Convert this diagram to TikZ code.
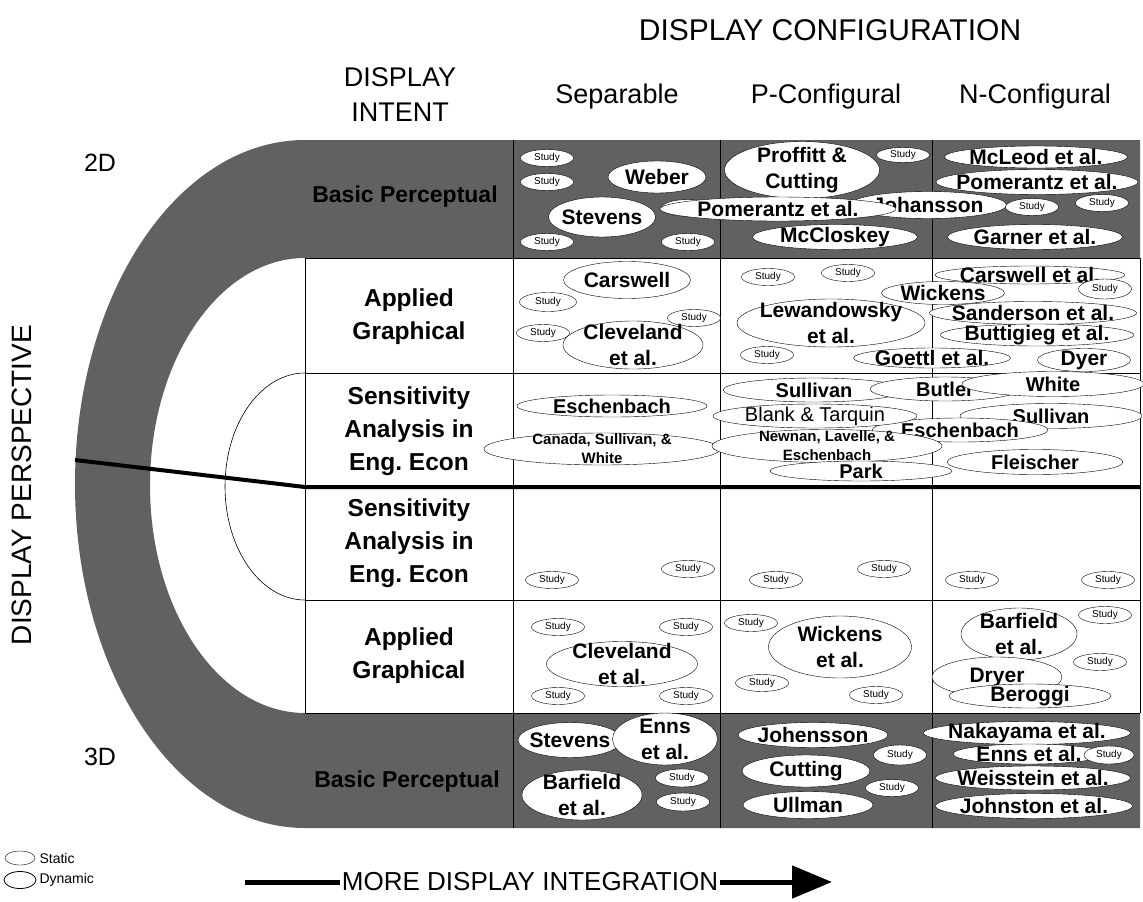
\documentclass[tikz,border=0pt]{standalone}
\usepackage{fontspec}
\setmainfont{Liberation Sans}
\usetikzlibrary{shapes.geometric}
\usetikzlibrary{arrows.meta}
\frenchspacing

\begin{document}
\begin{tikzpicture}[x=1pt, y=-1pt,
    band/.style={fill=black!62},
    grid/.style={draw=black, line width=0.6pt},
    head/.style={font=\fontsize{27}{35}\selectfont, align=center},
    rowlab/.style={font=\bfseries\fontsize{24.5}{33}\selectfont, align=center},
    study/.style={ellipse, draw, fill=white, inner sep=0pt, minimum width=53, minimum height=17, font=\fontsize{10}{10}\selectfont},
    pub/.style={ellipse, draw, fill=white, inner sep=0pt},
    who/.style={font=\bfseries\fontsize{21}{26}\selectfont, align=center, inner sep=0pt},
    sens/.style={font=\bfseries\fontsize{20}{24}\selectfont, align=center, inner sep=0pt},
    tiny/.style={font=\bfseries\fontsize{15}{19}\selectfont, align=center, inner sep=0pt}]
  \useasboundingbox (0,0) rectangle (1143,902);
  \fill[band] (1140,140) -- (305,140) arc[start angle=90, end angle=270, x radius=230pt, y radius=344pt]
     -- (1140,828) -- (1140,713) -- (305,713) arc[start angle=270, end angle=90, x radius=155pt, y radius=227.5pt]
     -- (1140,258) -- cycle;
  \draw[grid] (305,373) arc[start angle=90, end angle=270, x radius=80pt, y radius=113.5pt];
  \draw[grid] (305,258) -- (1140,258) (305,373) -- (1140,373) (305,600) -- (1140,600) (305,713) -- (1140,713);
  \draw[grid] (305,258) -- (305,713) (1140,258) -- (1140,713);
  \draw[grid] (513,140) -- (513,828) (720,140) -- (720,828) (932,140) -- (932,828);
  \draw[line width=4pt] (75,460) -- (305,487) -- (1140,487);

  \node[head, font=\fontsize{30}{30}\selectfont] (config) at (830,30) {DISPLAY CONFIGURATION};
  \node[head] (intent) at (400,95) {DISPLAY\\INTENT};
  \node[head] (sep) at (617,97) {Separable};
  \node[head] (pconf) at (826,97) {P-Configural};
  \node[head] (nconf) at (1035,97) {N-Configural};
  \node[rotate=90, font=\fontsize{28}{28}\selectfont] (persp) at (22,485) {DISPLAY PERSPECTIVE};
  \node[font=\fontsize{25}{25}\selectfont] (twod) at (100,163) {2D};
  \node[font=\fontsize{25}{25}\selectfont] (threed) at (100,757) {3D};

  \node[rowlab, font=\bfseries\fontsize{23}{23}\selectfont] (bp2) at (405,197) {Basic Perceptual};
  \node[rowlab] (ag2) at (409,317) {Applied\\Graphical};
  \node[rowlab] (sa2) at (409,431) {Sensitivity\\Analysis in\\Eng. Econ};
  \node[rowlab] (sa3) at (409,543) {Sensitivity\\Analysis in\\Eng. Econ};
  \node[rowlab] (ag3) at (409,656) {Applied\\Graphical};
  \node[rowlab, font=\bfseries\fontsize{23}{23}\selectfont] (bp3) at (407,782) {Basic Perceptual};

  \node[study] (st1) at (547,158) {Study};
  \node[study] (st2) at (547,182) {Study};
  \node[study] (st3) at (547,242) {Study};
  \node[pub, minimum width=98, minimum height=32, label={[who]center:Weber}] (weber) at (657,177) {};
  \node[study] (st4) at (688,208) {Study};
  \node[pub, minimum width=107, minimum height=40, label={[who]center:Stevens}] (stevens1) at (602,217) {};
  \node[study] (st5) at (688,242) {Study};
  \node[pub, minimum width=155, minimum height=57, label={[who]center:Proffitt \&\\Cutting}] (proffitt) at (802,170) {};
  \node[study, minimum height=15] (st6) at (903,155) {Study};
  \node[pub, minimum width=157, minimum height=27, label={[who]center:Johansson}] (johansson) at (928,205) {};
  \node[pub, minimum width=236, minimum height=24, label={[who]center:Pomerantz et al.}] (pomerantz1) at (778,209) {};
  \node[pub, minimum width=165, minimum height=25, label={[who]center:McCloskey}] (mccloskey) at (835,237) {};
  \node[pub, minimum width=183, minimum height=22, label={[who]center:McLeod et al.}] (mcleod) at (1036,157) {};
  \node[pub, minimum width=202, minimum height=25, label={[who]center:Pomerantz et al.}] (pomerantz2) at (1037,182) {};
  \node[study] (st7) at (1032,207) {Study};
  \node[study] (st8) at (1102,203) {Study};
  \node[pub, minimum width=175, minimum height=25, label={[who]center:Garner et al.}] (garner) at (1035,237) {};

  \node[pub, minimum width=127, minimum height=37, label={[who]center:Carswell}] (carswell1) at (627,280) {};
  \node[study, minimum width=57, minimum height=19] (st9) at (548,302) {Study};
  \node[study] (st10) at (694,318) {Study};
  \node[study] (st11) at (543,333) {Study};
  \node[pub, minimum width=140, minimum height=48, label={[who]center:Cleveland\\et al.}] (cleveland1) at (633,345) {};
  \node[study] (st12) at (768,277) {Study};
  \node[study] (st13) at (848,273) {Study};
  \node[study] (st14) at (767,355) {Study};
  \node[pub, minimum width=188, minimum height=48, label={[who]center:Lewandowsky\\et al.}] (lewandowsky) at (831,323) {};
  \node[pub, minimum width=190, minimum height=18, label={[who]center:Carswell et al.}] (carswell2) at (1030,275) {};
  \node[study, minimum height=20] (st15) at (1105,289) {Study};
  \node[pub, minimum width=123, minimum height=23, label={[who]center:Wickens}] (wickens1) at (943,293) {};
  \node[pub, minimum width=207, minimum height=23, label={[who]center:Sanderson et al.}] (sanderson) at (1033,313) {};
  \node[pub, minimum width=193, minimum height=22, label={[who]center:Buttigieg et al.}] (buttigieg) at (1037,335) {};
  \node[pub, minimum width=157, minimum height=20, label={[who]center:Goettl et al.}] (goettl) at (932,358) {};
  \node[pub, minimum width=93, minimum height=23, label={[who]center:Dyer}] (dyer) at (1084,360) {};

  \node[pub, minimum width=190, minimum height=22, label={[sens]center:Eschenbach}] (esch1) at (612,406) {};
  \node[pub, minimum width=182, minimum height=24, label={[sens]center:Sullivan}] (sullivan1) at (814,390) {};
  \node[pub, minimum width=150, minimum height=24, label={[sens]center:Butler}] (butler) at (945,389) {};
  \node[pub, minimum width=182, minimum height=25, label={[sens]center:White}] (white) at (1053,384) {};
  \node[pub, minimum width=182, minimum height=25, label={[sens]center:Sullivan}] (sullivan2) at (1051,416) {};
  \node[pub, minimum width=176, minimum height=24, label={[sens]center:Eschenbach}] (esch2) at (960,430) {};
  \node[pub, minimum width=204, minimum height=24, label={[font=\fontsize{20}{24}\selectfont, inner sep=0pt]center:Blank \& Tarquin}] (blank) at (815,416) {};
  \node[pub, minimum width=236, minimum height=32, label={[tiny]center:Canada, Sullivan, \&\\White}] (canada) at (602,449) {};
  \node[pub, minimum width=230, minimum height=33, label={[tiny]center:Newnan, Lavelle, \&\\Eschenbach}] (newnan) at (827,446) {};
  \node[pub, minimum width=182, minimum height=20, label={[sens]center:Park}] (park) at (861,471) {};
  \node[pub, minimum width=176, minimum height=25, label={[sens]center:Fleischer}] (fleischer) at (1035,462) {};

  \node[study] (st16) at (552,580) {Study};
  \node[study] (st17) at (688,569) {Study};
  \node[study] (st18) at (776,580) {Study};
  \node[study] (st19) at (884,569) {Study};
  \node[study] (st20) at (972,580) {Study};
  \node[study] (st21) at (1108,580) {Study};

  \node[study] (st22) at (558,627) {Study};
  \node[study] (st23) at (686,627) {Study};
  \node[pub, minimum width=151, minimum height=45, label={[who]center:Cleveland\\et al.}] (cleveland2) at (622,664) {};
  \node[study] (st24) at (558,696) {Study};
  \node[study] (st25) at (686,696) {Study};
  \node[study] (st26) at (751,623) {Study};
  \node[pub, minimum width=143, minimum height=62, label={[who]center:Wickens\\et al.}] (wickens2) at (840,647) {};
  \node[study] (st27) at (762,683) {Study};
  \node[study] (st28) at (876,695) {Study};
  \node[pub, minimum width=116, minimum height=52, label={[who]center:Barfield\\et al.}] (barfield1) at (1019,634) {};
  \node[study] (st29) at (1105,615) {Study};
  \node[study] (st30) at (1100,662) {Study};
  \node[pub, minimum width=130, minimum height=40, label={[who]center:Dryer}] (dryer) at (997,677) {};
  \node[pub, minimum width=162, minimum height=24, label={[who]center:Beroggi}] (beroggi) at (1030,696) {};

  \node[pub, minimum width=104, minimum height=35, label={[who]center:Stevens}] (stevens2) at (570,740) {};
  \node[pub, minimum width=105, minimum height=52, label={[who]center:Enns\\et al.}] (enns1) at (665,739) {};
  \node[pub, minimum width=120, minimum height=50, label={[who]center:Barfield\\et al.}] (barfield2) at (582,795) {};
  \node[study, minimum height=18] (st31) at (682,778) {Study};
  \node[study, minimum height=18] (st32) at (683,802) {Study};
  \node[pub, minimum width=150, minimum height=25, label={[who]center:Johensson}] (johensson) at (813,735) {};
  \node[study, minimum height=20] (st33) at (900,755) {Study};
  \node[pub, minimum width=128, minimum height=32, label={[who]center:Cutting}] (cutting) at (806,771) {};
  \node[study] (st34) at (892,788) {Study};
  \node[pub, minimum width=130, minimum height=27, label={[who]center:Ullman}] (ullman) at (808,805) {};
  \node[pub, minimum width=207, minimum height=23, label={[who]center:Nakayama et al.}] (nakayama) at (1027,733) {};
  \node[pub, minimum width=152, minimum height=20, label={[who]center:Enns et al.}] (enns2) at (1029,754) {};
  \node[study, minimum width=50, minimum height=18] (st35) at (1109,755) {Study};
  \node[pub, minimum width=195, minimum height=24, label={[who]center:Weisstein et al.}] (weisstein) at (1033,778) {};
  \node[pub, minimum width=197, minimum height=25, label={[who]center:Johnston et al.}] (johnston) at (1034,806) {};

  \node[pub, minimum width=30, minimum height=14] (legs) at (20,858) {};
  \node[anchor=west, font=\fontsize{14}{14}\selectfont] (static) at (36,858) {Static};
  \node[pub, minimum width=32, minimum height=17, thick] (legd) at (20,880) {};
  \node[anchor=west, font=\fontsize{14}{14}\selectfont] (dynamic) at (36,880) {Dynamic};

  \coordinate (arrs) at (245,882);
  \coordinate (arre) at (832,882);
  \node[font=\fontsize{26}{26}\selectfont, inner sep=2pt] (integ) at (530,882) {MORE DISPLAY INTEGRATION};
  \draw[line width=5pt] (arrs) -- (integ);
  \draw[line width=5pt, -{Triangle[length=40pt, width=32pt]}] (integ) -- (arre);
\end{tikzpicture}
\end{document}
